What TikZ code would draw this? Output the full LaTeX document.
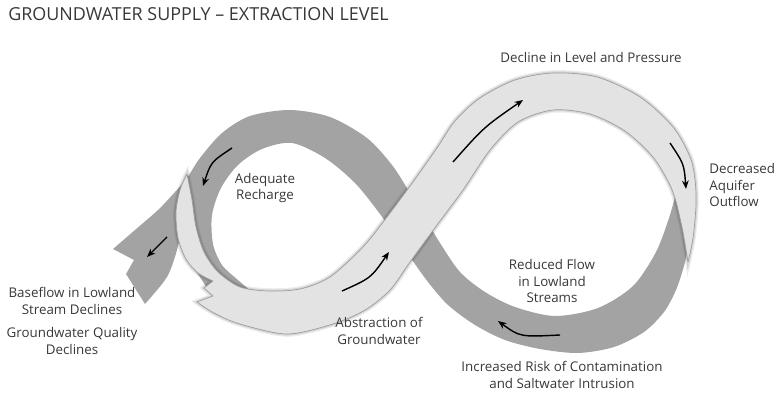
\documentclass[tikz,border=0pt]{standalone}
\usepackage{fontspec}
\setmainfont{Open Sans}
\usetikzlibrary{positioning, arrows.meta}

\definecolor{ribbondark}{gray}{0.64}
\definecolor{ribbonlight}{gray}{0.89}
\definecolor{ribbonedge}{gray}{0.62}
\definecolor{textgray}{gray}{0.22}

\begin{document}
\begin{tikzpicture}[
    x=0.02cm, y=-0.02cm,    % 1単位 = 1px（y軸は下向き）
    >=Stealth,
    font=\fontsize{7.6}{9.4}\selectfont,
    % 帯（リボン）のスタイル
    dark_band/.style={fill=ribbondark},
    light_band/.style={fill=ribbonlight, draw=ribbonedge, line width=0.4pt, line join=round,
        % 縁のぼかした影
        preaction={draw=black, draw opacity=0.07, line width=3.2pt},
        preaction={draw=black, draw opacity=0.10, line width=1.8pt}},
    % 流れを示す矢印
    flow_arrow/.style={-{Stealth[length=4.8pt, width=3.8pt]}, line width=0.8pt, black},
    % 説明文
    note/.style={text=textgray, align=center, inner sep=0pt}
]
    \useasboundingbox (0,0) rectangle (777,394);

    % --- 1. 濃い帯（右ループ下側 → 交差 → 左ループ上側 → 左の尾） ---
    \fill [dark_band]
        plot [smooth] coordinates {(694,190) (692,222) (688,248) (684,266) (676,290)
            (664,312) (644,332) (614,347) (578,353) (540,349) (505,340) (475,325)
            (448,305) (428,282) (410,257) (395,236) (380,214) (355,183) (325,158)
            (292,143) (262,149) (238,165) (221,188) (212,215) (213,244) (222,265)
            (238,280) (252,292)}
        -- (215,300) -- (190,262)
        -- plot [smooth] coordinates {(182,226) (177,250) (167,277) (145,304)}
        -- (126,274) -- (134,260) -- (113,249)
        -- plot [smooth] coordinates {(113,249) (135,230) (158,210) (175,192) (187,178)
            (200,158) (222,133) (250,116) (290,110) (330,117) (367,138) (392,165)
            (410,193) (425,218) (440,243) (460,272) (485,292) (515,307) (555,316)
            (598,308) (633,286) (656,252) (669,218) (676,193) (678,185)}
        -- cycle;

    % --- 2. 明るい帯（左下の切れ込み → 交差 → 右ループ上側） ---
    \filldraw [light_band]
        plot [smooth] coordinates {(187,174) (180,190) (176,212) (178,238) (186,259)
            (198,273) (213,281)}
        -- (204,288) -- (213,296) -- (197,302)
        -- plot [smooth] coordinates {(197,302) (214,313) (240,324) (287,334) (333,324)
            (365,310) (390,290) (410,262) (437,225) (463,190) (490,150) (518,122)
            (553,110) (590,114) (625,131) (653,157) (670,185) (677,205)}
        -- plot [smooth] coordinates {(677,205) (683,232) (688,262)}
        -- plot [smooth] coordinates {(688,262) (693,238) (696,205) (695,180) (690,157)
            (673,127) (640,97) (597,77) (553,73) (515,80) (480,98) (455,121) (437,148)
            (413,182) (387,217) (363,247) (330,277) (300,289) (268,291) (240,287)
            (218,272) (204,252) (196,227) (192,200) (187,174)}
        -- cycle;

    % --- 3. 流れの矢印 ---
    \coordinate (rechargeS) at (232,148);
    \coordinate (rechargeE) at (203,186);
    \draw [flow_arrow] (rechargeS) .. controls (211,162) .. (rechargeE);

    \coordinate (tailS) at (167,237);
    \coordinate (tailE) at (147,257);
    \draw [flow_arrow] (tailS) -- (tailE);

    \coordinate (abstractS) at (342,291);
    \coordinate (abstractE) at (389,252);
    \draw [flow_arrow] (abstractS) .. controls (371,278) .. (abstractE);

    \coordinate (riseS) at (453,162);
    \coordinate (riseE) at (523,100);
    \draw [flow_arrow] (riseS) .. controls (484,127) .. (riseE);

    \coordinate (outflowS) at (670,143);
    \coordinate (outflowE) at (686,189);
    \draw [flow_arrow] (outflowS) .. controls (684,164) .. (outflowE);

    \coordinate (streamS) at (560,335);
    \coordinate (streamE) at (498,321);
    \draw [flow_arrow] (streamS) .. controls (520,337) .. (streamE);

    % --- 4. 見出しとラベル ---
    \node [note, anchor=base west, font=\fontsize{10.2}{12}\selectfont]
        (title) at (8,21) {GROUNDWATER SUPPLY – EXTRACTION LEVEL};

    \node [note] (decline) at (591,57) {Decline in Level and Pressure};
    \node [note, anchor=west, align=left] (outflow) at (709,185)
        {Decreased\\Aquifer\\Outflow};
    \node [note] (recharge) at (265,188) {Adequate\\Recharge};
    \node [note] (reduced) at (552,281) {Reduced Flow\\in Lowland\\Streams};
    \node [note] (abstraction) at (379,331) {Abstraction of\\Groundwater};
    \node [note] (risk) at (562,375)
        {Increased Risk of Contamination\\and Saltwater Intrusion};
    \node [note] (baseflow) at (72,301) {Baseflow in Lowland\\Stream Declines};
    \node [note, below=7pt of baseflow] (quality) {Groundwater Quality\\Declines};

\end{tikzpicture}
\end{document}
